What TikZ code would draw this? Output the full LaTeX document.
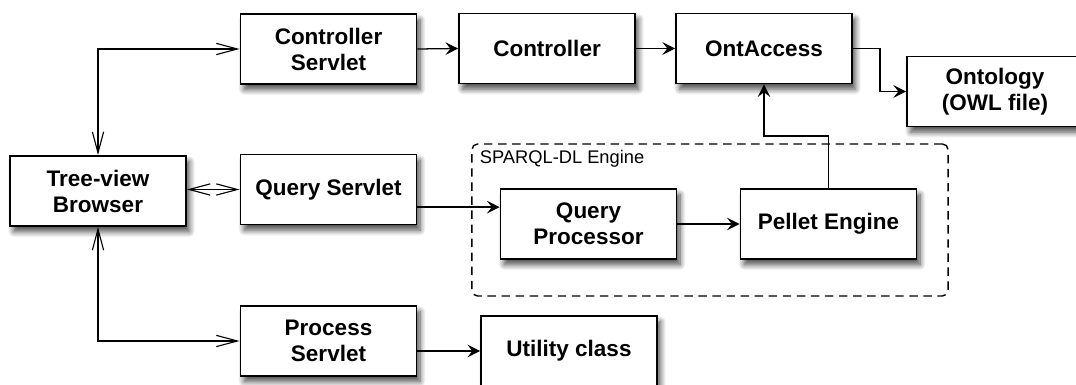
\documentclass[tikz,border=0pt]{standalone}
\usepackage{fontspec}
\setmainfont{Liberation Sans}
\usetikzlibrary{arrows.meta,shadows.blur,positioning}

\begin{document}
\begin{tikzpicture}[
    x=0.025cm, y=-0.025cm,
    box/.style={rectangle, draw, line width=1.3pt, fill=white, minimum width=4.4cm, minimum height=1.75cm, align=center, font=\bfseries\fontsize{16}{18.5}\selectfont, blur shadow={shadow xshift=2.5pt, shadow yshift=-4pt, shadow blur radius=4pt, shadow blur steps=8, shadow opacity=70}},
    link/.style={draw, line width=0.9pt, -{Stealth[length=9pt, width=9pt, inset=3.5pt]}},
    twoway/.style={draw, line width=0.8pt, {Straight Barb[length=15pt, width=8pt]}-{Straight Barb[length=15pt, width=8pt]}},
    engine/.style={draw=black, line width=1pt, dash pattern=on 6pt off 4pt, rounded corners=4pt, minimum width=11.9cm, minimum height=3.8cm},
    enginelabel/.style={font=\fontsize{13}{15}\selectfont, anchor=north west, inner sep=2pt}
]
\useasboundingbox (0,0) rectangle (1076,385);

% SPARQL-DL group
\node[engine] (engine) at (710,220) {};
\node[enginelabel] (enginename) at ([xshift=4pt,yshift=-3pt]engine.north west) {SPARQL-DL Engine};

% Boxes
\node[box] (browser) at (98,191) {Tree-view\\Browser};
\node[box] (ctrlservlet) at (328.5,49) {Controller\\Servlet};
\node[box] (qservlet) at (328.5,189.5) {Query Servlet};
\node[box] (procservlet) at (328.5,341) {Process\\Servlet};
\node[box] (controller) at (547,48.5) {Controller};
\node[box] (ontaccess) at (764,48.5) {OntAccess};
\node[box] (ontology) at (995,91.5) {Ontology\\(OWL file)};
\node[box] (qproc) at (588.5,224) {Query\\Processor};
\node[box] (pellet) at (828.5,224) {Pellet Engine};
\node[box] (utility) at (569,351) {Utility class};

% Browser to servlets
\draw[twoway] (browser.north) |- (ctrlservlet.west);
\draw[twoway] (browser.east |- qservlet.west) -- (qservlet.west);
\draw[twoway] (browser.south) |- (procservlet.west);

% Servlets onward
\draw[link] (ctrlservlet.east) -- (controller.west);
\draw[link] (controller.east) -- (ontaccess.west);
\draw[link] (ontaccess.east) -- ++(27,0) |- (ontology.west);
\coordinate (qin) at ([yshift=12pt]qproc.west);
\draw[link] (qservlet.east |- qin) -- (qin);
\draw[link] (qproc.east) -- (pellet.west);
\draw[link] (pellet.north) -- ++(0,-52) -| (ontaccess.south);
\draw[link] (procservlet.east |- utility.west) -- (utility.west);

\end{tikzpicture}
\end{document}
